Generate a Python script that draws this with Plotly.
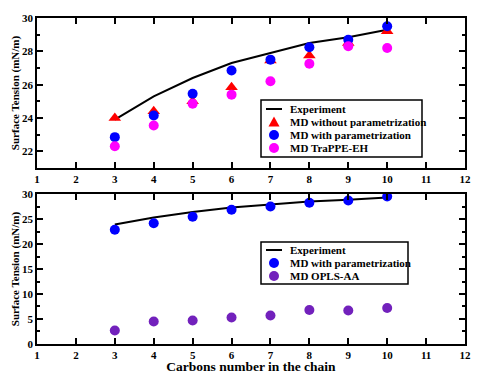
"""Surface tension vs carbon number, two stacked panels."""

import plotly.graph_objects as go
from plotly.subplots import make_subplots

# sample data
carbons = [3, 4, 5, 6, 7, 8, 9, 10]
experiment = [23.9, 25.3, 26.4, 27.3, 27.9, 28.5, 28.85, 29.3]
md_without_param = [24.0, 24.4, 25.0, 25.85, 27.45, 27.75, 28.5, 29.2]
md_with_param = [22.85, 24.15, 25.45, 26.85, 27.5, 28.25, 28.7, 29.5]
md_trappe_eh = [22.3, 23.55, 24.85, 25.4, 26.2, 27.25, 28.3, 28.2]
md_opls_aa = [2.7, 4.5, 4.7, 5.3, 5.7, 6.8, 6.7, 7.2]

x_ticks = list(range(1, 13))

FONT = "Liberation Serif, Times New Roman, serif"
W, H = 484, 374
ML, MR, MT, MB = 37, 19, 18, 30

RED, BLUE, MAGENTA, INDIGO = "#ff0000", "#0000ff", "#ff00ff", "#7221bc"


def px(x):
    return (x - ML) / (W - ML - MR)


def py(y):
    return (H - MB - y) / (H - MT - MB)


fig = make_subplots(rows=2, cols=1, vertical_spacing=0.0798)

# top panel
fig.add_trace(go.Scatter(x=carbons, y=experiment, mode="lines", name="Experiment",
                         line={"color": "black", "width": 2}), row=1, col=1)
fig.add_trace(go.Scatter(x=carbons, y=md_without_param, mode="markers",
                         name="MD without parametrization",
                         marker={"symbol": "triangle-up", "size": 11, "color": RED}), row=1, col=1)
fig.add_trace(go.Scatter(x=carbons, y=md_with_param, mode="markers",
                         name="MD with parametrization",
                         marker={"size": 10, "color": BLUE}), row=1, col=1)
fig.add_trace(go.Scatter(x=carbons, y=md_trappe_eh, mode="markers", name="MD TraPPE-EH",
                         marker={"size": 10, "color": MAGENTA}), row=1, col=1)

# bottom panel
fig.add_trace(go.Scatter(x=carbons, y=experiment, mode="lines", name="Experiment",
                         line={"color": "black", "width": 2}), row=2, col=1)
fig.add_trace(go.Scatter(x=carbons, y=md_with_param, mode="markers",
                         name="MD with parametrization",
                         marker={"size": 10, "color": BLUE}), row=2, col=1)
fig.add_trace(go.Scatter(x=carbons, y=md_opls_aa, mode="markers", name="MD OPLS-AA",
                         marker={"size": 10, "color": INDIGO}), row=2, col=1)

axis_style = {
    "showline": True, "linecolor": "black", "linewidth": 1.5, "mirror": "allticks",
    "ticks": "inside", "ticklen": 6, "tickwidth": 1.5, "tickcolor": "black",
    "showgrid": False, "zeroline": False, "automargin": False,
    "tickfont": {"family": FONT, "size": 11, "color": "black", "weight": "bold"},
}

fig.update_xaxes(axis_style)
fig.update_xaxes(range=[1, 12], tickvals=x_ticks, ticktext=[str(t) for t in x_ticks])
fig.update_xaxes(title={"text": "Carbons number in the chain", "standoff": 3,
                        "font": {"family": FONT, "size": 13.5, "color": "black", "weight": "bold"}},
                 row=2, col=1)

fig.update_yaxes(axis_style)
y_title = {"text": "Surface Tension (mN/m)", "standoff": 0,
           "font": {"family": FONT, "size": 11, "color": "black", "weight": "bold"}}
fig.update_yaxes(range=[21, 30], dtick=2, tick0=0, title=y_title,
                 minor={"dtick": 1, "tick0": 0, "ticks": "inside", "ticklen": 3,
                        "tickwidth": 1.5, "tickcolor": "black", "showgrid": False},
                 row=1, col=1)
fig.update_yaxes(range=[0, 30], dtick=5, tick0=0, title=y_title,
                 minor={"dtick": 2.5, "tick0": 0, "ticks": "inside", "ticklen": 3,
                        "tickwidth": 1.5, "tickcolor": "black", "showgrid": False},
                 row=2, col=1)


# legends drawn by hand (plotly's own legend rows are too tall for this layout)
def draw_legend(left, top, width, entries, row_h=13, pad=9):
    height = pad * 2 + row_h * (len(entries) - 1)
    fig.add_shape(type="rect", xref="paper", yref="paper",
                  x0=px(left), x1=px(left + width), y0=py(top), y1=py(top + height),
                  line={"color": "black", "width": 1.5}, fillcolor="white", layer="above")
    for i, (kind, color, label) in enumerate(entries):
        cy = top + pad + i * row_h
        sx = left + 13
        if kind == "line":
            fig.add_shape(type="line", xref="paper", yref="paper",
                          x0=px(sx - 8), x1=px(sx + 8), y0=py(cy), y1=py(cy),
                          line={"color": color, "width": 2}, layer="above")
        elif kind == "circle":
            fig.add_shape(type="circle", xref="paper", yref="paper",
                          xsizemode="pixel", ysizemode="pixel",
                          xanchor=px(sx), yanchor=py(cy), x0=-5, x1=5, y0=-5, y1=5,
                          line={"width": 0}, fillcolor=color, layer="above")
        else:
            fig.add_shape(type="path", xref="paper", yref="paper",
                          xsizemode="pixel", ysizemode="pixel",
                          xanchor=px(sx), yanchor=py(cy),
                          path="M -5.5 -4.5 L 5.5 -4.5 L 0 5.5 Z",
                          line={"width": 0}, fillcolor=color, layer="above")
        fig.add_annotation(xref="paper", yref="paper", x=px(left + 27), y=py(cy),
                           xanchor="left", yanchor="middle", showarrow=False,
                           text=label,
                           font={"family": FONT, "size": 11, "color": "black", "weight": "bold"})


draw_legend(261, 100, 161, [
    ("line", "black", "Experiment"),
    ("triangle", RED, "MD without parametrization"),
    ("circle", BLUE, "MD with parametrization"),
    ("circle", MAGENTA, "MD TraPPE-EH"),
])
draw_legend(261, 242, 147, [
    ("line", "black", "Experiment"),
    ("circle", BLUE, "MD with parametrization"),
    ("circle", INDIGO, "MD OPLS-AA"),
], row_h=13, pad=8)

fig.update_layout(
    width=W, height=H,
    margin={"l": ML, "r": MR, "t": MT, "b": MB},
    plot_bgcolor="white", paper_bgcolor="white",
    font={"family": FONT, "color": "black"},
    showlegend=False,
)

# the page's default body margin would push the figure 8px down and right
fig.write_html("out.html", config={"displayModeBar": False},
               post_script="document.body.style.margin = '0';")
